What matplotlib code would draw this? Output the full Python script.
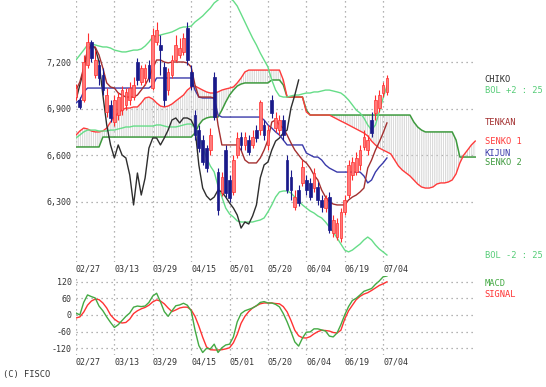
import numpy as np
import matplotlib.pyplot as plt

plt.rcParams['font.family'] = 'DejaVu Sans Mono'
plt.rcParams['hatch.linewidth'] = 0.5

# tick dates (one grid line every 10 sessions)
date_labels = ['02/27', '03/13', '03/29', '04/15', '05/01', '05/20', '06/04', '06/19', '07/04']

# daily candles
opens = [6975, 6955, 6955, 7180, 7330, 7115, 7180, 7115, 6880, 6925,
         6815, 6860, 6890, 6925, 6955, 6975, 7200, 7070, 7095, 7180,
         7030, 7330, 7310, 7170, 7020, 7115, 7215, 7245, 7265, 7420,
         7135, 6860, 6760, 6695, 6645, 6630, 7105, 6490, 6355, 6630,
         6440, 6360, 6600, 6715, 6665, 6695, 6665, 6760, 6760, 6795,
         6665, 6955, 6775, 6760, 6825, 6570, 6460, 6265, 6375, 6420,
         6440, 6420, 6385, 6395, 6310, 6260, 6330, 6095, 6070, 6065,
         6235, 6340, 6470, 6490, 6535, 6650, 6630, 6825, 6870, 6905,
         7000, 7005]
highs = [7060, 6975, 7245, 7385, 7340, 7275, 7215, 7160, 7030, 6955,
         6985, 7005, 7045, 7030, 7070, 7105, 7225, 7180, 7185, 7215,
         7420, 7460, 7375, 7200, 7160, 7245, 7375, 7355, 7385, 7460,
         7180, 6890, 6795, 6730, 6665, 6775, 7135, 6515, 6490, 6665,
         6470, 6600, 6750, 6750, 6750, 6730, 6760, 6795, 6955, 6825,
         6795, 6985, 6880, 6860, 6860, 6600, 6505, 6375, 6405, 6570,
         6470, 6450, 6515, 6425, 6340, 6340, 6360, 6215, 6195, 6260,
         6340, 6570, 6585, 6620, 6665, 6760, 6730, 6880, 6985, 7020,
         7070, 7115]
lows = [6955, 6895, 6940, 7160, 7200, 7095, 7050, 6985, 6845, 6815,
        6785, 6825, 6860, 6890, 6925, 6955, 7050, 7050, 7050, 7070,
        7020, 7310, 7115, 6915, 6985, 7095, 7200, 7225, 7245, 7180,
        7020, 6695, 6620, 6535, 6490, 6600, 6825, 6215, 6335, 6330,
        6295, 6340, 6580, 6630, 6630, 6600, 6645, 6685, 6730, 6695,
        6630, 6840, 6750, 6730, 6695, 6355, 6310, 6245, 6270, 6400,
        6340, 6310, 6360, 6280, 6235, 6235, 6095, 6070, 6050, 6040,
        6215, 6325, 6440, 6470, 6505, 6630, 6600, 6715, 6825, 6880,
        6975, 6985]
closes = [7030, 6910, 7200, 7330, 7225, 7215, 7095, 7020, 6985, 6840,
          6955, 6975, 7020, 7005, 7030, 7050, 7085, 7160, 7160, 7095,
          7375, 7405, 7275, 6955, 7135, 7215, 7310, 7290, 7355, 7215,
          7045, 6730, 6645, 6555, 6515, 6730, 6845, 6245, 6460, 6355,
          6325, 6570, 6710, 6665, 6715, 6620, 6715, 6710, 6940, 6730,
          6760, 6870, 6840, 6825, 6730, 6375, 6375, 6330, 6290, 6525,
          6375, 6330, 6485, 6310, 6265, 6325, 6115, 6180, 6160, 6235,
          6310, 6535, 6555, 6580, 6630, 6715, 6695, 6740, 6955, 6985,
          7050, 7095]

tenkan = [7019, 7071, 7161, 7277, 7297, 7297, 7245, 7161, 7065, 7039,
          7032, 7000, 6987, 6974, 6974, 6974, 6987, 7019, 7052, 7097,
          7161, 7213, 7213, 7200, 7194, 7200, 7200, 7200, 7200, 7194,
          7168, 7052, 6974, 6974, 6974, 6974, 6968, 6794, 6665, 6665,
          6665, 6665, 6665, 6632, 6568, 6549, 6549, 6549, 6581, 6632,
          6697, 6813, 6826, 6794, 6774, 6729, 6678, 6632, 6600, 6568,
          6549, 6516, 6471, 6439, 6374, 6329, 6297, 6284, 6278, 6278,
          6278, 6310, 6329, 6342, 6362, 6387, 6516, 6568, 6632, 6684,
          6742, 6807]
kijun = [6936, 6955, 7007, 7032, 7032, 7032, 7032, 7032, 7032, 7032,
         7032, 7032, 7032, 7032, 7032, 7032, 7032, 7032, 7032, 7032,
         7052, 7097, 7097, 7097, 7097, 7097, 7097, 7097, 7097, 7097,
         7097, 7019, 6974, 6968, 6968, 6968, 6968, 6858, 6845, 6845,
         6845, 6845, 6845, 6845, 6845, 6845, 6845, 6845, 6845, 6826,
         6794, 6774, 6749, 6729, 6697, 6665, 6665, 6665, 6665, 6665,
         6613, 6600, 6587, 6587, 6568, 6536, 6516, 6503, 6490, 6490,
         6490, 6490, 6490, 6490, 6490, 6465, 6420, 6439, 6490, 6523,
         6549, 6581]
senko1 = [6729, 6755, 6774, 6768, 6755, 6749, 6749, 6755, 6774, 6813,
          6845, 6871, 6890, 6903, 6903, 6910, 6910, 6936, 6968, 6974,
          6961, 6936, 6916, 6910, 6916, 6929, 6949, 6968, 6987, 7019,
          7039, 7045, 7032, 7019, 7007, 7000, 7000, 7007, 7019, 7026,
          7032, 7039, 7065, 7097, 7136, 7148, 7148, 7148, 7148, 7148,
          7148, 7148, 7148, 7148, 7084, 6974, 6974, 6974, 6974, 6974,
          6878, 6858, 6858, 6858, 6858, 6858, 6858, 6845, 6832, 6819,
          6807, 6794, 6781, 6768, 6755, 6742, 6723, 6690, 6665, 6645,
          6632, 6620, 6607, 6568, 6529, 6503, 6484, 6465, 6439, 6413,
          6394, 6387, 6387, 6394, 6413, 6420, 6420, 6426, 6439, 6478,
          6549, 6600, 6632, 6665, 6690]
senko2 = [6652, 6652, 6652, 6652, 6652, 6652, 6652, 6716, 6716, 6716,
          6716, 6716, 6716, 6716, 6716, 6716, 6716, 6716, 6716, 6716,
          6716, 6716, 6716, 6716, 6716, 6716, 6716, 6716, 6716, 6716,
          6716, 6742, 6794, 6826, 6839, 6845, 6845, 6845, 6890, 6942,
          6987, 7019, 7045, 7058, 7065, 7065, 7065, 7065, 7065, 7065,
          7065, 7084, 7084, 7084, 7052, 6974, 6974, 6974, 6974, 6974,
          6890, 6858, 6858, 6858, 6858, 6858, 6858, 6858, 6858, 6858,
          6858, 6858, 6858, 6858, 6858, 6858, 6858, 6858, 6858, 6858,
          6858, 6858, 6858, 6858, 6858, 6858, 6858, 6858, 6813, 6781,
          6761, 6749, 6749, 6749, 6749, 6749, 6749, 6749, 6749, 6697,
          6587, 6587, 6587, 6587, 6587]
chiko = [6955, 7052, 7148, 7277, 7310, 7290, 7200, 6987, 6794, 6665,
         6581, 6665, 6600, 6581, 6471, 6278, 6484, 6342, 6452, 6645,
         6710, 6710, 6665, 6710, 6761, 6826, 6839, 6807, 6839, 6839,
         6826, 6774, 6536, 6387, 6336, 6310, 6329, 6374, 6362, 6329,
         6291, 6258, 6213, 6129, 6168, 6155, 6207, 6278, 6452, 6536,
         6555, 6632, 6690, 6710, 6742, 6761, 6903, 6987, 7084]
bol_up = [7213, 7245, 7277, 7310, 7316, 7310, 7303, 7297, 7297, 7290,
          7277, 7271, 7265, 7265, 7271, 7277, 7277, 7284, 7303, 7329,
          7361, 7368, 7374, 7381, 7387, 7394, 7406, 7419, 7426, 7426,
          7432, 7458, 7477, 7497, 7523, 7548, 7581, 7600, 7620, 7626,
          7613, 7594, 7561, 7510, 7458, 7406, 7355, 7310, 7258, 7213,
          7168, 7084, 7019, 6981, 6974, 6974, 6981, 6987, 6987, 6994,
          7000, 7000, 7007, 7007, 7013, 7019, 7019, 7013, 7007, 7000,
          6981, 6955, 6923, 6890, 6871, 6839, 6794, 6761, 6794, 6878,
          6968, 7045]
bol_dn = [6710, 6729, 6749, 6761, 6761, 6761, 6755, 6755, 6755, 6761,
          6761, 6768, 6774, 6781, 6781, 6787, 6787, 6787, 6787, 6787,
          6787, 6794, 6794, 6787, 6781, 6781, 6781, 6787, 6794, 6800,
          6800, 6774, 6729, 6652, 6581, 6529, 6491, 6400, 6329, 6258,
          6220, 6200, 6175, 6168, 6168, 6168, 6168, 6175, 6181, 6194,
          6233, 6278, 6329, 6362, 6368, 6368, 6355, 6329, 6303, 6278,
          6258, 6239, 6226, 6207, 6194, 6168, 6136, 6104, 6065, 6026,
          5987, 5975, 5987, 6007, 6026, 6052, 6071, 6052, 6020, 5994,
          5975, 5955]

macd = [7, 0, 45, 72, 66, 61, 32, 15, -7, -27,
        -45, -35, -20, -5, 7, 28, 32, 30, 32, 45,
        68, 78, 47, 12, -5, 15, 33, 36, 42, 35,
        15, -54, -110, -135, -120, -122, -105, -135, -118, -108,
        -105, -79, -25, 5, 15, 20, 25, 33, 45, 48,
        43, 43, 38, 29, 5, -25, -60, -97, -112, -83,
        -62, -61, -50, -50, -54, -58, -76, -79, -65, -35,
        0, 30, 52, 60, 72, 85, 90, 95, 110, 122,
        137, 140]
signal = [-11, -7, 10, 35, 50, 57, 55, 43, 25, 0,
          -15, -25, -29, -27, -15, 5, 15, 22, 27, 35,
          47, 54, 50, 40, 25, 12, 18, 25, 28, 28,
          18, -5, -40, -80, -115, -125, -126, -126, -125, -122,
          -118, -100, -70, -30, -5, 12, 25, 33, 40, 43,
          43, 43, 41, 40, 30, 11, -20, -55, -75, -82,
          -83, -78, -68, -60, -55, -56, -58, -63, -65, -55,
          -15, 15, 35, 55, 67, 75, 80, 88, 97, 106,
          112, 119]

price_ticks = [6300, 6600, 6900, 7200]
macd_ticks = [-120, -60, 0, 60, 120]

# colours
C_UP, C_UP_EDGE, C_DN = '#ff7a7a', '#ff2e2e', '#1a1a8a'
C_TENKAN, C_KIJUN = '#a33030', '#3a3aaa'
C_SENKO1, C_SENKO2 = '#ff3b3b', '#3e9a3e'
C_CHIKO, C_BOL = '#2e2e2e', '#66dd88'
C_GRID, C_TXT = '#9a9a9a', '#333333'

W, H = 546, 387
fig = plt.figure(figsize=(W / 100, H / 100), dpi=100)
ax = fig.add_axes([76 / W, 1 - 262 / H, 400 / W, 262 / H])
axm = fig.add_axes([76 / W, 1 - 355 / H, 400 / W, 79 / H])

o, h, l, c = map(np.array, (opens, highs, lows, closes))
xd = np.arange(len(c))
xs = np.arange(len(senko1))
xc = np.arange(len(chiko))
tick_pos = np.arange(len(date_labels)) * 10

# cloud
ax.fill_between(xs, senko1, senko2, facecolor='none', edgecolor='#cccccc',
                hatch='|' * 9, linewidth=0, zorder=1)
ax.plot(xs, senko2, color=C_SENKO2, lw=1.1, zorder=2)
ax.plot(xs, senko1, color=C_SENKO1, lw=1.0, zorder=2)
ax.plot(xd, bol_up, color=C_BOL, lw=1.0, zorder=2)
ax.plot(xd, bol_dn, color=C_BOL, lw=1.0, zorder=2)
ax.plot(xc, chiko, color=C_CHIKO, lw=1.0, zorder=3)
ax.plot(xd, kijun, color=C_KIJUN, lw=1.0, zorder=3)
ax.plot(xd, tenkan, color=C_TENKAN, lw=1.0, zorder=3)

up = c >= o
ax.vlines(xd[up], l[up], h[up], color=C_UP_EDGE, lw=0.8, zorder=4)
ax.vlines(xd[~up], l[~up], h[~up], color=C_DN, lw=0.8, zorder=4)
ax.bar(xd[up], (c - o)[up], bottom=o[up], width=0.7, color=C_UP,
       edgecolor=C_UP_EDGE, linewidth=0.5, zorder=5)
ax.bar(xd[~up], (o - c)[~up], bottom=c[~up], width=0.7, color=C_DN,
       edgecolor=C_DN, linewidth=0.5, zorder=5)

ax.set_xlim(0, 104.2)
ax.set_ylim(5910, 7600)

# MACD
axm.plot(xd, signal, color='#ff3333', lw=1.0)
axm.plot(xd, macd, color='#44aa44', lw=1.0)
axm.set_xlim(0, 104.2)
axm.set_ylim(-144, 140)

grid_kw = dict(color=C_GRID, lw=0.9, ls=(0, (1, 3)), zorder=0)
for a, ticks, fmt in ((ax, price_ticks, '{:,}'), (axm, macd_ticks, '{}')):
    for s in a.spines.values():
        s.set_visible(False)
    for t in ticks:
        a.axhline(t, **grid_kw)
    y0, y1 = a.get_ylim()
    a.vlines(tick_pos, y0, y1, **grid_kw)
    a.set_yticks(ticks)
    a.set_yticklabels([fmt.format(t) for t in ticks])
    a.set_xticks(tick_pos)
    a.set_xticklabels(date_labels, ha='left')
    a.tick_params(length=0, labelsize=6, colors=C_TXT, pad=3)
    a.tick_params(axis='x', pad=2)

# line-end labels (pairs that sit on the same level are nudged apart)
tr = ax.get_yaxis_transform()
lx = 1.022
for txt, val, dy, col in (('CHIKO', chiko[-1], 4, C_CHIKO),
                          ('BOL +2 : 25', bol_up[-1], -30, '#55cc77'),
                          ('TENKAN', tenkan[-1], 0, C_TENKAN),
                          ('SENKO 1', senko1[-1], 0, C_SENKO1),
                          ('KIJUN', kijun[-1], 32, C_KIJUN),
                          ('SENKO 2', senko2[-1], -38, C_SENKO2),
                          ('BOL -2 : 25', bol_dn[-1], 0, '#55cc77')):
    ax.text(lx, val + dy, txt, transform=tr, color=col, fontsize=6.3,
            va='center', ha='left', clip_on=False)

axm.text(lx, 0.90, 'MACD', transform=axm.transAxes, color='#44aa44',
         fontsize=6.3, va='center')
axm.text(lx, 0.77, 'SIGNAL', transform=axm.transAxes, color='#ff3333',
         fontsize=6.3, va='center')

fig.text(3 / W, 1 - 374 / H, '(C) FISCO', color=C_TXT, fontsize=6.3,
         va='center', ha='left')

fig.savefig('out.png', dpi=100, facecolor='white')
